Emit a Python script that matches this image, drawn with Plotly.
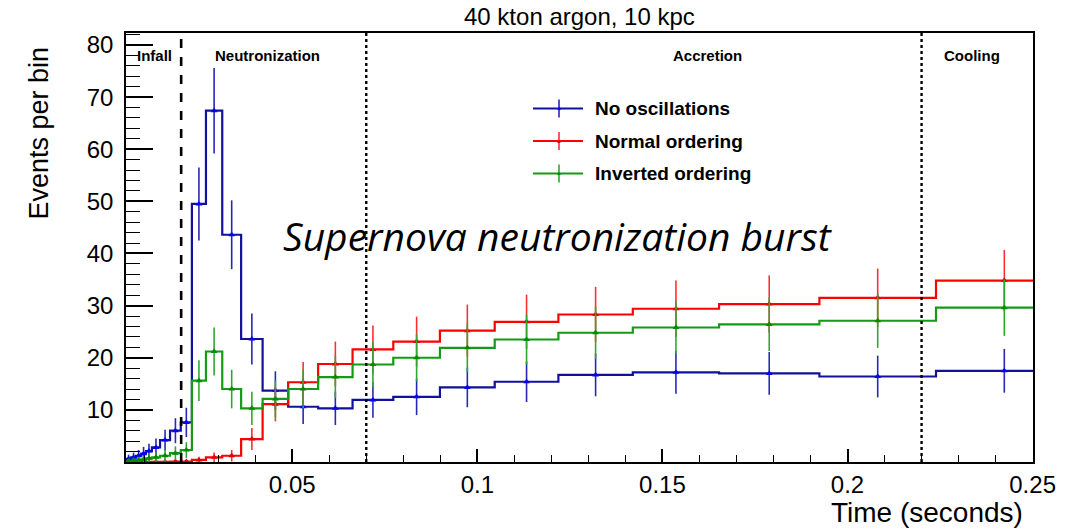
import numpy as np
import plotly.graph_objects as go

# ---------------- data ----------------
bin_edges = [0.0051, 0.0065, 0.0078, 0.0092, 0.0105, 0.0121, 0.0143, 0.0170, 0.0199,
             0.0229, 0.0267, 0.0311, 0.0362, 0.0420, 0.0489, 0.0570, 0.0663, 0.0773,
             0.0899, 0.1047, 0.1219, 0.1420, 0.1653, 0.1924, 0.2239, 0.2608]

no_osc = [0.6, 0.9, 1.2, 1.6, 2.1, 2.8, 4.2, 6.0, 7.6,
          49.5, 67.4, 43.6, 23.6, 13.7, 10.6, 10.3, 11.9, 12.5, 14.3, 15.4, 16.7,
          17.2, 17.0, 16.4, 17.5]
no_osc_err = [0.8, 0.9, 1.1, 1.3, 1.4, 1.7, 2.0, 2.4, 2.8,
              7.0, 8.2, 6.6, 4.9, 3.7, 3.3, 3.2, 3.4, 3.5, 3.8, 3.9, 4.1,
              4.1, 4.1, 4.0, 4.2]

normal = [0.0, 0.0, 0.0, 0.0, 0.0, 0.05, 0.05, 0.1, 0.1,
          0.4, 0.9, 1.2, 4.4, 11.1, 15.3, 18.8, 21.6, 23.1, 25.2, 26.9, 28.3,
          29.4, 30.3, 31.5, 34.8]
normal_err = [0.0, 0.0, 0.0, 0.0, 0.0, 0.2, 0.2, 0.3, 0.3,
              0.6, 0.9, 1.1, 2.1, 3.3, 3.9, 4.3, 4.6, 4.8, 5.0, 5.2, 5.3,
              5.4, 5.5, 5.6, 5.9]

inverted = [0.2, 0.3, 0.4, 0.5, 0.7, 0.9, 1.2, 1.7, 2.3,
            15.6, 21.2, 14.0, 10.3, 12.1, 14.0, 16.3, 18.7, 20.0, 21.9, 23.5, 24.8,
            25.8, 26.4, 27.1, 29.6]
inverted_err = [0.4, 0.5, 0.6, 0.7, 0.8, 0.9, 1.1, 1.3, 1.5,
                3.9, 4.6, 3.7, 3.2, 3.5, 3.7, 4.0, 4.3, 4.5, 4.7, 4.8, 5.0,
                5.1, 5.1, 5.2, 5.4]

series_names = ["No oscillations", "Normal ordering", "Inverted ordering"]
region_edges = [0.02, 0.07, 0.22]
region_names = ["Infall", "Neutronization", "Accretion", "Cooling"]
region_label_x = [0.0129, 0.0434, 0.1622, 0.2337]
x_tick_vals = [0.05, 0.1, 0.15, 0.2, 0.25]
x_tick_text = ["0.05", "0.1", "0.15", "0.2", "0.25"]
y_tick_vals = [10, 20, 30, 40, 50, 60, 70, 80]

# ---------------- styling ----------------
line_colors = ["#11119c", "#ff0000", "#159a15"]
marker_colors = ["#0000ff", "#e00000", "#008a00"]
err_colors = ["#2828b4", "#ff3030", "#30a830"]
FONT = "Liberation Sans, Arial, Helvetica, sans-serif"

edges = np.array(bin_edges)
centers = 0.5 * (edges[:-1] + edges[1:])

fig = go.Figure()
all_vals = [no_osc, normal, inverted]
all_errs = [no_osc_err, normal_err, inverted_err]

for vals, errs, name, lc, mc, ec in zip(all_vals, all_errs, series_names,
                                         line_colors, marker_colors, err_colors):
    fig.add_trace(go.Scatter(
        x=edges, y=list(vals) + [vals[-1]], mode="lines", line_shape="hv",
        line=dict(color=lc, width=2.2), name=name, showlegend=False,
        hoverinfo="skip"))
for vals, errs, name, lc, mc, ec in zip(all_vals, all_errs, series_names,
                                         line_colors, marker_colors, err_colors):
    fig.add_trace(go.Scatter(
        x=centers, y=vals, mode="markers", name=name, showlegend=False,
        marker=dict(symbol="triangle-up", size=6, color=mc),
        error_y=dict(type="data", array=errs, width=0, thickness=1.6, color=ec)))

# plot-area geometry (pixels) for paper conversions
L, R, T, B = 126, 1033, 33, 462
W, H = R - L, B - T


def px_x(px):
    return (px - L) / W


def px_y(py):
    return (B - py) / H


shapes = []
for i, xe in enumerate(region_edges):
    shapes.append(dict(type="line", xref="x", yref="paper", x0=xe, x1=xe, y0=0, y1=1,
                       line=dict(color="black", width=2.6 if i == 0 else 2.4,
                                 dash="dash" if i == 0 else "dot")))

annotations = []
for name, xl in zip(region_names, region_label_x):
    annotations.append(dict(x=xl, y=px_y(56), xref="x", yref="paper", text=f"<b>{name}</b>",
                            showarrow=False, font=dict(family=FONT, size=15, color="black"),
                            xanchor="center", yanchor="middle"))

# manual legend (ROOT style)
leg_rows = [108.5, 141, 173.5]
for name, lc, mc, ec, ry in zip(series_names, line_colors, marker_colors, err_colors, leg_rows):
    shapes.append(dict(type="line", xref="paper", yref="paper", x0=px_x(533), x1=px_x(583),
                       y0=px_y(ry), y1=px_y(ry), line=dict(color=lc, width=2)))
    shapes.append(dict(type="line", xref="paper", yref="paper", x0=px_x(559), x1=px_x(559),
                       y0=px_y(ry - 9), y1=px_y(ry + 9), line=dict(color=ec, width=1.6)))
    annotations.append(dict(x=px_x(559), y=px_y(ry), xref="paper", yref="paper", text="▲",
                            showarrow=False, font=dict(size=6, color=mc),
                            xanchor="center", yanchor="middle"))
    annotations.append(dict(x=px_x(593), y=px_y(ry), xref="paper", yref="paper",
                            text=f"<b>{name}</b>", showarrow=False,
                            font=dict(family=FONT, size=19, color="black"),
                            xanchor="left", yanchor="middle"))

annotations.append(dict(x=px_x(558), y=px_y(236), xref="paper", yref="paper",
                        text="<i>Supernova neutronization burst</i>", showarrow=False,
                        font=dict(family="Open Sans, Noto Sans, sans-serif", size=39, color="black"),
                        xanchor="center", yanchor="middle"))
annotations.append(dict(x=px_x(1025), y=px_y(512), xref="paper", yref="paper",
                        text="Time (seconds)", showarrow=False,
                        font=dict(family=FONT, size=28, color="black"),
                        xanchor="right", yanchor="middle"))
annotations.append(dict(x=px_x(38), y=px_y(45), xref="paper", yref="paper",
                        text="Events per bin", showarrow=False, textangle=-90,
                        font=dict(family=FONT, size=27, color="black"),
                        xanchor="center", yanchor="top"))
annotations.append(dict(x=0.5, y=px_y(17), xref="paper", yref="paper",
                        text="40 kton argon, 10 kpc", showarrow=False,
                        font=dict(family=FONT, size=24, color="black"),
                        xanchor="center", yanchor="middle"))

fig.update_layout(
    width=1079, height=529,
    margin=dict(l=L, r=1079 - R, t=T, b=529 - B),
    paper_bgcolor="white", plot_bgcolor="white",
    shapes=shapes, annotations=annotations, showlegend=False,
    font=dict(family=FONT, color="black"),
)
fig.update_xaxes(
    range=[bin_edges[0], 0.2501], tickmode="array", tickvals=x_tick_vals, ticktext=x_tick_text,
    ticks="inside", ticklen=13, tickwidth=1.5, tickcolor="black",
    minor=dict(tickmode="linear", tick0=0, dtick=0.01, ticks="inside", ticklen=7,
               tickwidth=1.2, tickcolor="black"),
    showline=True, linewidth=1.6, linecolor="black", mirror=True,
    showgrid=False, zeroline=False, tickfont=dict(family=FONT, size=24, color="black"),
    ticklabelstandoff=0,
)
fig.update_yaxes(
    range=[0, 82.3], tickmode="array", tickvals=y_tick_vals,
    ticks="inside", ticklen=27, tickwidth=1.5, tickcolor="black",
    minor=dict(tickmode="linear", tick0=0, dtick=2, ticks="inside", ticklen=14,
               tickwidth=1.2, tickcolor="black"),
    showline=True, linewidth=1.6, linecolor="black", mirror=True,
    showgrid=False, zeroline=False, tickfont=dict(family=FONT, size=24, color="black"),
    ticklabelstandoff=6,
)

fig.write_html("out.html")
